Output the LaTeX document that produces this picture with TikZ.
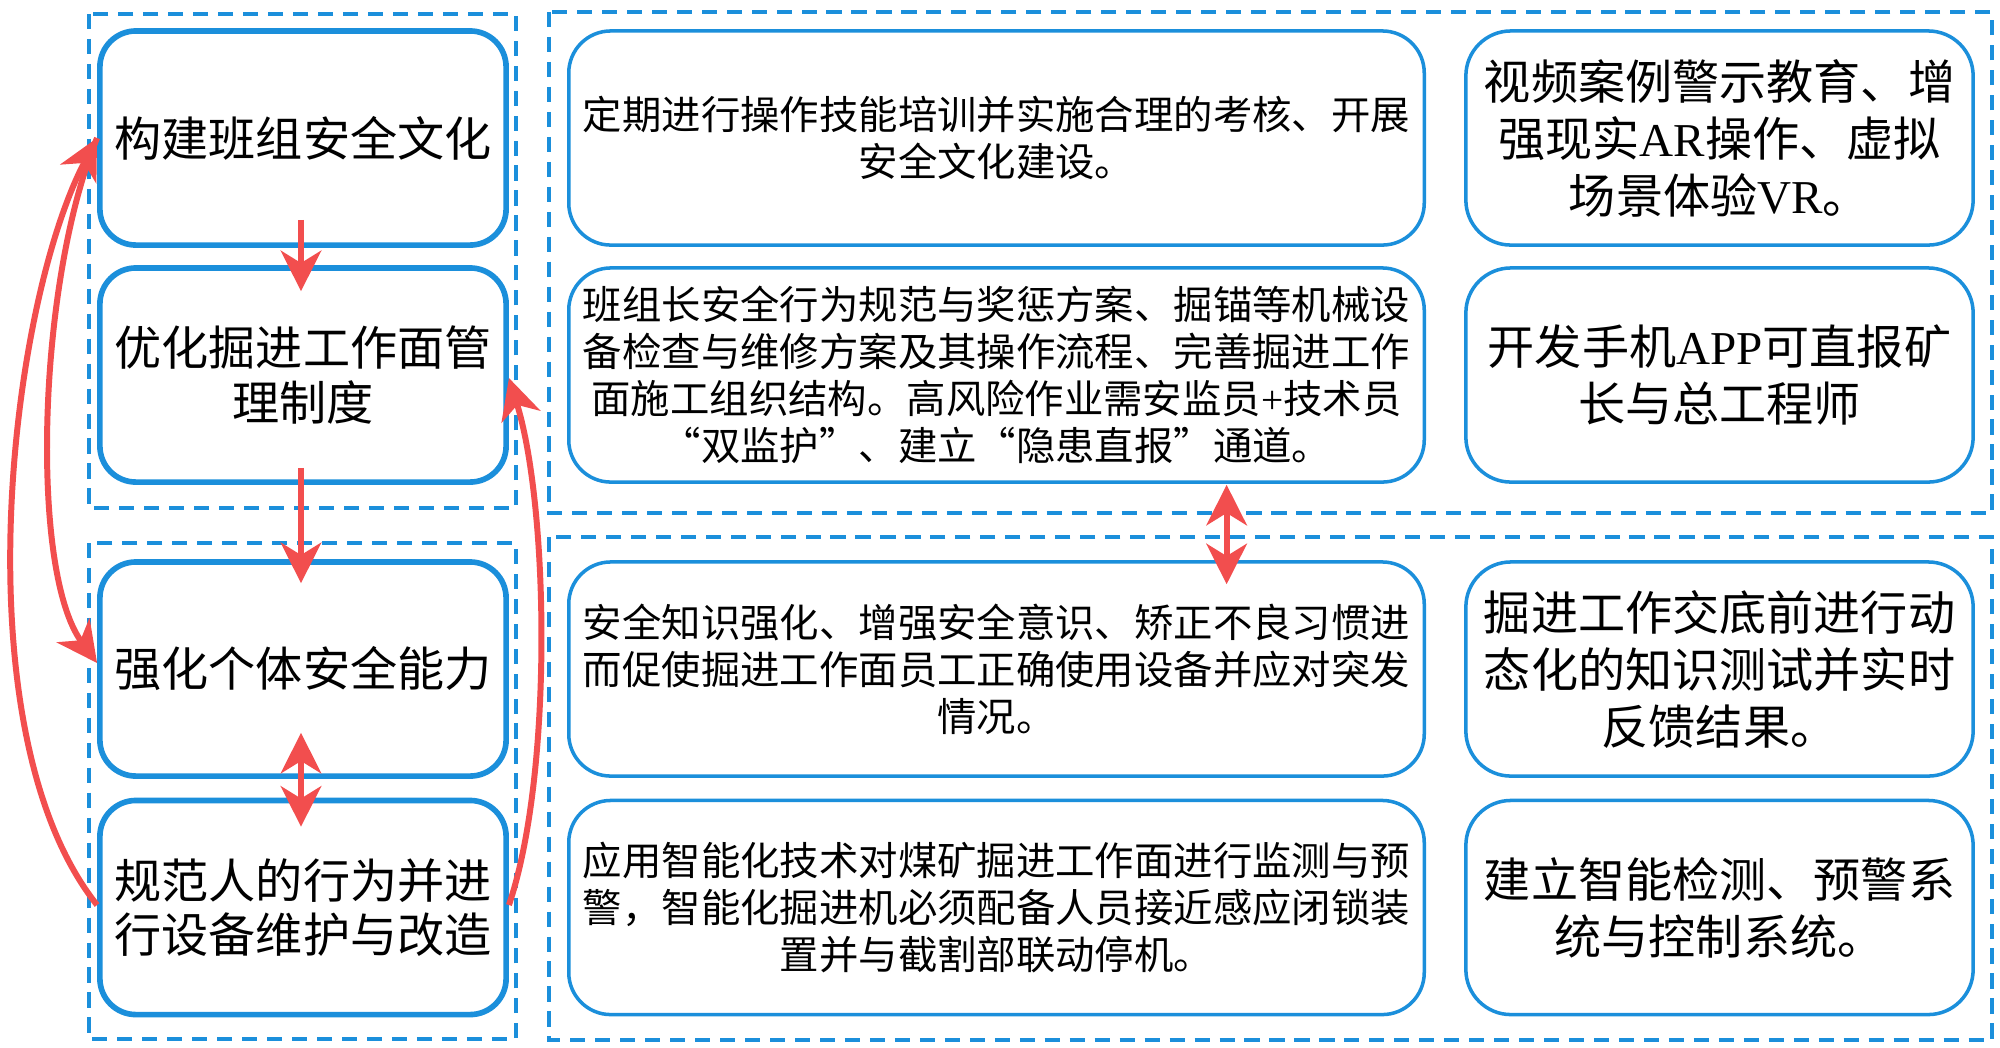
\documentclass[tikz,border=0pt]{standalone}
\usepackage{fontspec}
\setmainfont{Liberation Serif}
\newfontfamily\cjk{Noto Sans CJK SC}
\newfontfamily\cjkq[RawFeature=+fwid]{Noto Sans CJK SC}
\newfontfamily\lat{Liberation Serif}
\usetikzlibrary{arrows.meta}
\definecolor{boxblue}{RGB}{27,143,219}
\definecolor{arrred}{RGB}{242,78,78}
\begin{document}
\begin{tikzpicture}[x=0.01cm,y=-0.01cm,
  grp/.style={draw=boxblue, line width=0.95pt, dash pattern=on 4.3pt off 2.8pt},
  lbox/.style={draw=boxblue, line width=1.6pt, rounded corners=0.36cm, minimum width=4.06cm, minimum height=2.14cm, inner sep=0pt, align=center, font=\cjk\fontsize{13.4}{15.6}\selectfont},
  mbox/.style={draw=boxblue, line width=1pt, rounded corners=0.42cm, minimum width=8.55cm, minimum height=2.14cm, inner sep=0pt, align=center, font=\cjk\fontsize{11.2}{13.4}\selectfont},
  rbox/.style={draw=boxblue, line width=1pt, rounded corners=0.45cm, minimum width=5.07cm, minimum height=2.14cm, inner sep=0pt, align=center, font=\cjk\fontsize{13.4}{16.2}\selectfont},
  arr/.style={draw=arrred, line width=1.7pt, -{Stealth[length=11.5pt,width=11.5pt,inset=3.5pt]}},
  darr/.style={draw=arrred, line width=1.7pt, {Stealth[length=11.5pt,width=11.5pt,inset=3.5pt]}-{Stealth[length=11.5pt,width=11.5pt,inset=3.5pt]}}
]
\useasboundingbox (0,0) rectangle (2000,1047);
\fill[white] (0,0) rectangle (2000,1047);

% dashed groups
\draw[grp] (89,14) rectangle (516,508);
\draw[grp] (89,543) rectangle (516,1039);
\draw[grp] (549,12) rectangle (1992,513);
\draw[grp] (549,537) rectangle (1992,1040);

% left column
\node[lbox] (b1) at (303,138) {构建班组安全文化};
\node[lbox] (b2) at (303,375) {优化掘进工作面管\\理制度};
\node[lbox] (b3) at (303,669) {强化个体安全能力};
\node[lbox] (b4) at (303,907.5) {规范人的行为并进\\行设备维护与改造};

% middle column
\node[mbox] (m1) at (996.5,138) {定期进行操作技能培训并实施合理的考核、开展\\安全文化建设。};
\node[mbox] (m2) at (996.5,375) {班组长安全行为规范与奖惩方案、掘锚等机械设\\备检查与维修方案及其操作流程、完善掘进工作\\面施工组织结构。高风险作业需安监员{\lat +}技术员\\{\cjkq “}双监护{\cjkq ”}、建立{\cjkq “}隐患直报{\cjkq ”}通道。};
\node[mbox] (m3) at (996.5,669) {安全知识强化、增强安全意识、矫正不良习惯进\\而促使掘进工作面员工正确使用设备并应对突发\\情况。};
\node[mbox] (m4) at (996.5,907.5) {应用智能化技术对煤矿掘进工作面进行监测与预\\警，智能化掘进机必须配备人员接近感应闭锁装\\置并与截割部联动停机。};

% right column
\node[rbox] (r1) at (1719.5,138) {视频案例警示教育、增\\强现实{\lat AR}操作、虚拟\\场景体验{\lat VR}。};
\node[rbox] (r2) at (1719.5,375) {开发手机{\lat APP}可直报矿\\长与总工程师};
\node[rbox] (r3) at (1719.5,669) {掘进工作交底前进行动\\态化的知识测试并实时\\反馈结果。};
\node[rbox] (r4) at (1719.5,907.5) {建立智能检测、预警系\\统与控制系统。};

% straight arrows
\draw[arr] ([xshift=-0.02cm,yshift=0.28cm]b1.south) -- ([xshift=-0.02cm,yshift=-0.26cm]b2.north);
\draw[arr] ([xshift=-0.02cm,yshift=0.17cm]b2.south) -- ([xshift=-0.02cm,yshift=-0.24cm]b3.north);
\draw[darr] ([xshift=-0.02cm,yshift=0.46cm]b3.south) -- ([xshift=-0.02cm,yshift=-0.29cm]b4.north);
\draw[darr] ([xshift=2.3cm,yshift=-0.01cm]m2.south) -- ([xshift=2.3cm,yshift=-0.24cm]m3.north);

% curved arrows
\coordinate (b1w) at ([yshift=0cm]b1.west);
\draw[arr] ([yshift=0.025cm]b4.west) .. controls (-40,733) and (8,308) .. (b1w);
\draw[arr] (b1w) .. controls (37.4,282) and (29.6,571) .. ([yshift=0.06cm]b3.west);
\draw[arr] ([yshift=0.025cm]b4.east) .. controls (553,775) and (549,507) .. ([yshift=-0.03cm]b2.east);
\end{tikzpicture}
\end{document}
